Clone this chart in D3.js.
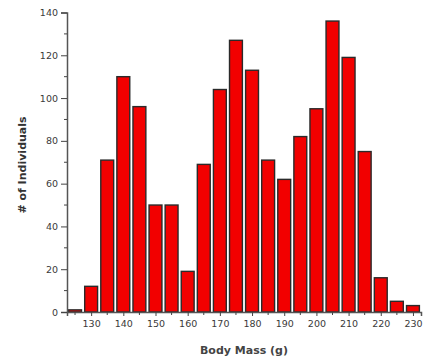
<!DOCTYPE html>
<html>
<head>
<meta charset="utf-8">
<script src="https://cdn.jsdelivr.net/npm/d3@7"></script>
<style>
  html, body { margin: 0; padding: 0; background: #fff; }
  svg text { font-family: "DejaVu Sans", Verdana, sans-serif; }
</style>
</head>
<body>
<svg id="chart" width="423" height="362"></svg>
<script>
const binCenters = [125,130,135,140,145,150,155,160,165,170,175,180,185,190,195,200,205,210,215,220,225,230];
const counts     = [1,12,71,110,96,50,50,19,69,104,127,113,71,62,82,95,136,119,75,16,5,3];
const xTickValues = [130,140,150,160,170,180,190,200,210,220,230];
const yTickValues = [0,20,40,60,80,100,120,140];
const binWidth = 5;

const svg = d3.select("#chart");
const plotLeft = 67, plotRight = 421, plotTop = 12.5, plotBottom = 312;

const x = d3.scaleLinear().domain([122.5, 232.5]).range([plotLeft, plotRight]);
const y = d3.scaleLinear().domain([0, 140]).range([plotBottom, plotTop]);

// bars
svg.append("g").selectAll("rect").data(binCenters).join("rect")
  .attr("x", (d) => x(d - binWidth / 2) + 1.6)
  .attr("y", (d, i) => y(counts[i]))
  .attr("width", (d) => x(d + binWidth / 2) - x(d - binWidth / 2) - 3.2)
  .attr("height", (d, i) => y(0) - y(counts[i]))
  .attr("fill", "#f20000")
  .attr("stroke", "#2a2a2a")
  .attr("stroke-width", 1.4);

// x axis
const xAxis = svg.append("g").attr("transform", `translate(0,${plotBottom})`);
xAxis.call(d3.axisBottom(x).tickValues(xTickValues).tickSize(4).tickPadding(4).tickFormat(d3.format("d")));
xAxis.append("g").selectAll("line").data(binCenters.filter(v => v % 10 !== 0)).join("line")
  .attr("x1", d => x(d)).attr("x2", d => x(d)).attr("y1", 0).attr("y2", 3)
  .attr("stroke", "#444");

// y axis
const yAxis = svg.append("g").attr("transform", `translate(${plotLeft},0)`);
yAxis.call(d3.axisLeft(y).tickValues(yTickValues).tickSize(6).tickPadding(3));
yAxis.append("g").selectAll("line").data([10,30,50,70,90,110,130]).join("line")
  .attr("x1", -3).attr("x2", 0).attr("y1", d => y(d)).attr("y2", d => y(d))
  .attr("stroke", "#444");

svg.selectAll(".domain").attr("stroke", "#555").attr("stroke-width", 1.5);
svg.selectAll(".tick line").attr("stroke", "#444");
svg.selectAll(".tick text").attr("fill", "#3a3a3a").style("font-size", "9.5px");

// axis titles
svg.append("text")
  .attr("x", 244).attr("y", 354)
  .attr("text-anchor", "middle")
  .attr("fill", "#444")
  .style("font-size", "11px")
  .style("font-weight", "bold")
  .text("Body Mass (g)");

svg.append("text")
  .attr("transform", "translate(26,165) rotate(-90)")
  .attr("text-anchor", "middle")
  .attr("fill", "#333")
  .style("font-size", "11px")
  .style("font-weight", "bold")
  .text("# of Individuals");
</script>
</body>
</html>
